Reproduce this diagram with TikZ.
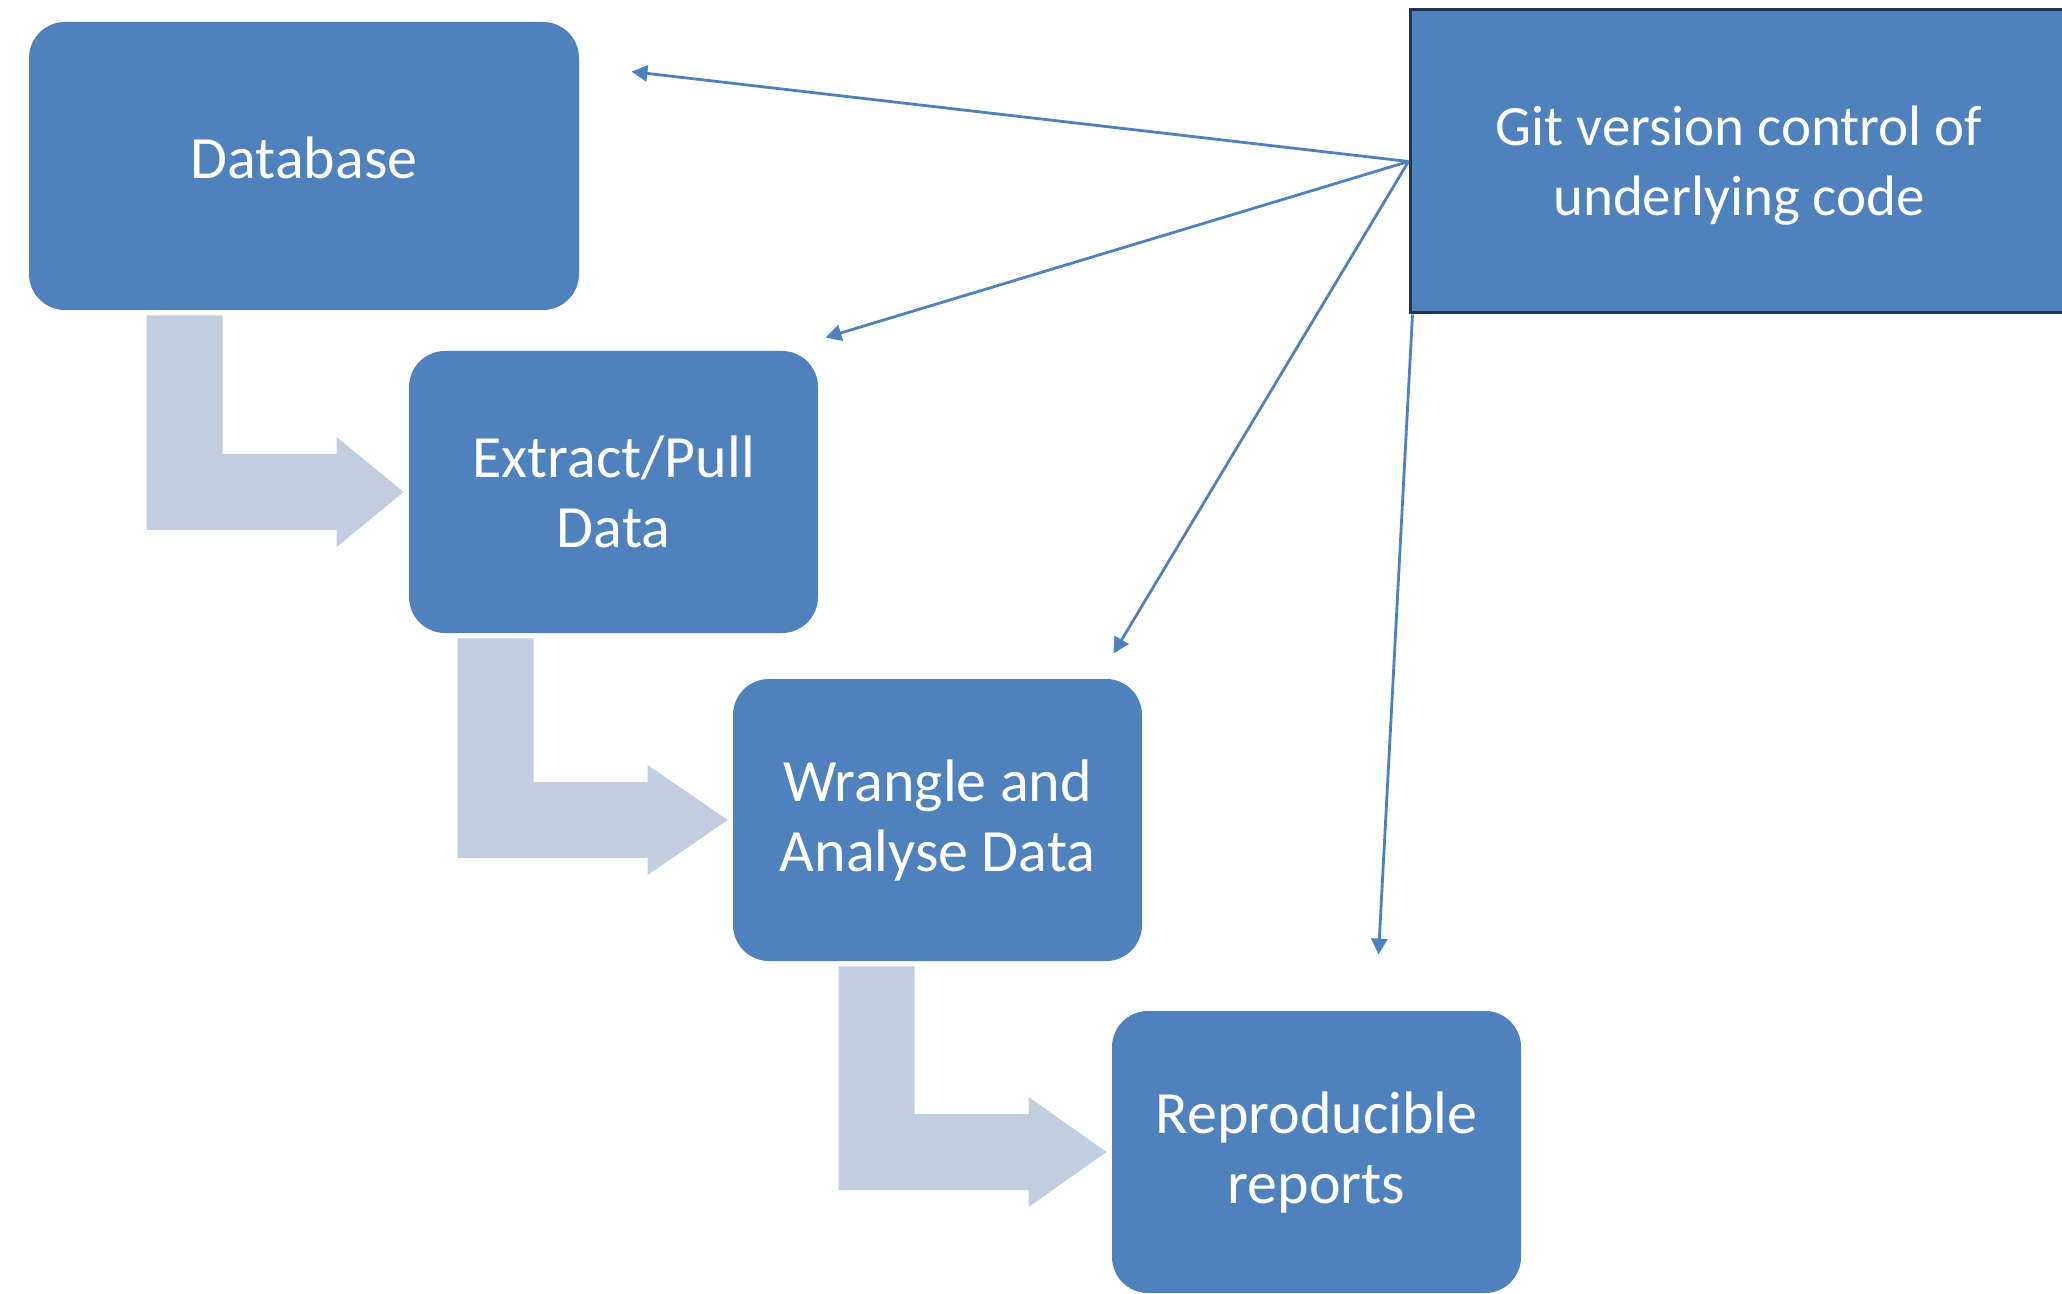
\documentclass[tikz,border=0pt]{standalone}
\usepackage{fontspec}
\setmainfont{Carlito}
\usetikzlibrary{calc,arrows.meta}

\definecolor{boxblue}{HTML}{4F81BD}
\definecolor{flowgrey}{HTML}{C3CDE0}
\definecolor{gitline}{HTML}{1F3552}

\tikzset{
  stage/.style={fill=boxblue, rounded corners=18pt, text=white, align=center,
    minimum width=204.5pt, minimum height=141pt, inner sep=0pt,
    font=\fontsize{30}{35}\selectfont},
  flow/.style={fill=flowgrey},
  link/.style={draw=boxblue, line width=1.4pt, -{Triangle[length=8pt,width=8pt]}}
}

% bent arrow from the bottom of #2 to the left side of #3, #1 = head length
\newcommand{\stepflow}[3][78]{%
  \fill[flow] ($(#3.west |- #2.south)+(-#1-195,5)$) -- ++(76,0)
    |- ($(#3.west)+(-#1-5,-38)$) -- ++(0,-17) -- ($(#3.west)+(-5,0)$)
    -- ($(#3.west)+(-#1-5,55)$) -- ++(0,-17) -- ($(#3.west)+(-#1-195,38)$) -- cycle;
}

\begin{document}
\begin{tikzpicture}[x=0.5pt,y=-0.5pt]
\useasboundingbox (0,0) rectangle (2062,1294);

\node[stage, minimum width=275pt, minimum height=144pt] (db) at (304,166) {\raisebox{8pt}{Database}};
\node[stage] (extract) at (613.5,492) {Extract/Pull\\Data};
\node[stage] (wrangle) at (937.5,820) {Wrangle and\\Analyse Data};
\node[stage] (reports) at (1316.5,1152) {Reproducible\\reports};

\node[fill=boxblue, draw=gitline, line width=1.5pt, text=white,
  minimum width=329pt, minimum height=151.5pt, inner sep=0pt,
  font=\fontsize{28.5}{35}\selectfont] (git) at (1739,161.5)
  {\raisebox{0pt}[\dimexpr\height+5pt][\depth]{\begin{tabular}{@{}c@{}}Git version control of\\underlying code\end{tabular}}};

\stepflow[67]{db}{extract}
\stepflow[80]{extract}{wrangle}
\stepflow[78]{wrangle}{reports}

\coordinate (dbend) at ($(db.north east)+(52,50)$);
\coordinate (exend) at ($(extract.north east)+(7,-13)$);
\coordinate (wrend) at ($(wrangle.north east)+(-29,-25)$);
\coordinate (repend) at ($(reports.north)+(62,-56)$);

\draw[link] (git.west) -- (dbend);
\draw[link] (git.west) -- (exend);
\draw[link] (git.west) -- (wrend);
\draw[link] ($(git.south west)+(4,0)$) -- (repend);
\end{tikzpicture}
\end{document}
